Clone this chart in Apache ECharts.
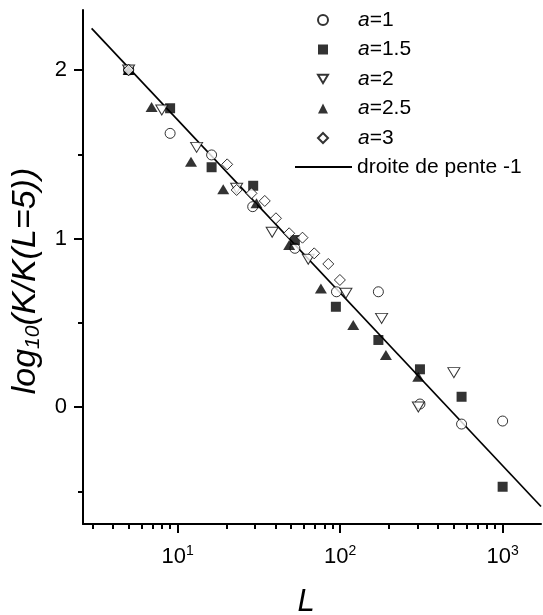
<!DOCTYPE html>
<html>
<head>
<meta charset="utf-8">
<script src="https://cdn.jsdelivr.net/npm/echarts@6/dist/echarts.min.js"></script>
<style>html,body{margin:0;padding:0;background:#fff}#c{width:543px;height:615px}</style>
</head>
<body>
<div id="c"></div>
<script>
// ---- data ----
const L_a1  = [5, 9, 16.2, 29, 52.7, 95, 172, 310, 559, 1000];
const v_a1  = [2, 1.624, 1.496, 1.189, 0.942, 0.684, 0.684, 0.018, -0.101, -0.083];
const L_a15 = [5, 9, 16.2, 29.2, 52.7, 94.2, 172, 310, 559, 1000];
const v_a15 = [2, 1.773, 1.423, 1.313, 0.991, 0.595, 0.398, 0.224, 0.061, -0.473];
const L_a2  = [5, 8, 13.1, 23.1, 38.2, 63.7, 108.6, 180, 303, 501];
const v_a2  = [2, 1.763, 1.541, 1.298, 1.037, 0.877, 0.675, 0.526, 0.0, 0.204];
const L_a25 = [5, 6.92, 12.1, 19.1, 30.6, 48.6, 76.2, 120.5, 191.4, 302.6];
const v_a25 = [2, 1.78, 1.456, 1.292, 1.209, 0.961, 0.704, 0.487, 0.309, 0.18];
const L_a3  = [5, 20.2, 23.1, 28.5, 34.4, 40.3, 48.6, 58.7, 69.3, 84.6, 99.7];
const v_a3  = [2, 1.44, 1.288, 1.268, 1.223, 1.12, 1.031, 1.005, 0.912, 0.849, 0.754];
const lineL = [2.96, 1722];
const lineV = [2.247, -0.59];
const seriesNames = ['a=1', 'a=1.5', 'a=2', 'a=2.5', 'a=3'];
const lineName = 'droite de pente -1';
const xTicksMajor = [10, 100, 1000];
const xTicksMinor = [3,4,5,6,7,8,9,20,30,40,50,60,70,80,90,200,300,400,500,600,700,800,900];
const yTicksMajor = [0, 1, 2];
const yTicksMinor = [-0.5, 0.5, 1.5];
const xRange = [2.62, 1722];
const yRange = [-0.694, 2.356];

const FONT = '"Liberation Sans", Arial, sans-serif';
const pairs = (xs, ys) => xs.map((x, i) => [x, ys[i]]);

const chart = echarts.init(document.getElementById('c'), null, {renderer: 'canvas'});

const axisLineStyle = {color: '#000', width: 2};
const commonX = {type: 'log', logBase: 10, min: xRange[0], max: xRange[1], position: 'bottom', splitLine: {show: false}, minorTick: {show: false}};
const commonY = {type: 'value', min: yRange[0], max: yRange[1], position: 'left', splitLine: {show: false}, minorTick: {show: false}};

const hollow = {color: '#fff', borderColor: '#000', borderWidth: 1};
const filled = {color: '#000', borderColor: '#000', borderWidth: 0};

const option = {
  backgroundColor: '#fff',
  animation: false,
  grid: {left: 83, right: 2, top: 10, bottom: 91, containLabel: false, outerBoundsMode: 'none'},
  xAxis: [
    Object.assign({}, commonX, {
      axisLine: {show: true, onZero: false, lineStyle: axisLineStyle},
      axisTick: {show: true, customValues: xTicksMajor, length: 9, lineStyle: {color: '#000', width: 2}},
      axisLabel: {
        show: true, customValues: xTicksMajor, margin: 20, color: '#000',
        formatter: v => '{b|10}{s|' + Math.round(Math.log10(v)) + '}',
        rich: {
          b: {fontSize: 22, fontFamily: FONT, color: '#000'},
          s: {fontSize: 14, fontFamily: FONT, color: '#000', padding: [0, 0, 12, 0]}
        }
      },
      name: 'L', nameLocation: 'middle', nameGap: 63,
      nameTextStyle: {fontSize: 31, fontStyle: 'italic', fontFamily: FONT, color: '#000', padding: [0, 12, 0, 0]}
    }),
    Object.assign({}, commonX, {
      axisLine: {show: false, onZero: false},
      axisTick: {show: true, customValues: xTicksMinor, length: 5, lineStyle: {color: '#000', width: 2}},
      axisLabel: {show: false}
    })
  ],
  yAxis: [
    Object.assign({}, commonY, {
      axisLine: {show: true, onZero: false, lineStyle: axisLineStyle},
      axisTick: {show: true, customValues: yTicksMajor, length: 9, lineStyle: {color: '#000', width: 2}},
      axisLabel: {show: true, customValues: yTicksMajor, margin: 16, color: '#000', fontSize: 22, fontFamily: FONT},
      name: '{i|log}{s|10}{i|(K/K(L=5))}', nameLocation: 'middle', nameGap: 11,
      nameTextStyle: {
        color: '#000',
        padding: [0, 28, 0, 0],
        rich: {
          i: {fontSize: 34, fontStyle: 'italic', fontFamily: FONT, color: '#000'},
          s: {fontSize: 21, fontStyle: 'italic', fontFamily: FONT, color: '#000', padding: [16, 0, 0, 0]}
        }
      }
    }),
    Object.assign({}, commonY, {
      axisLine: {show: false, onZero: false},
      axisTick: {show: true, customValues: yTicksMinor, length: 5, lineStyle: {color: '#000', width: 2}},
      axisLabel: {show: false}
    })
  ],
  legend: [
    {
      data: [
        {name: seriesNames[0]},
        {name: seriesNames[1]},
        {name: seriesNames[2], icon: 'path://M0,0L12,0L6,10Z'},
        {name: seriesNames[3]},
        {name: seriesNames[4]}
      ],
      orient: 'vertical', left: 312, top: 4.5, padding: 5,
      itemWidth: 10, itemHeight: 10, itemGap: 8.5, selectedMode: false,
      formatter: name => '{sp| }{i|a}{n|' + name.slice(1) + '}',
      textStyle: {
        color: '#000',
        rich: {
          sp: {width: 25, fontSize: 21, lineHeight: 22},
          i: {fontSize: 21, fontStyle: 'italic', fontFamily: FONT, color: '#000', lineHeight: 22},
          n: {fontSize: 21, fontFamily: FONT, color: '#000', lineHeight: 22}
        }
      }
    },
    {
      data: [lineName], orient: 'vertical', left: 289, top: 151, padding: 5,
      itemWidth: 57, itemHeight: 10, selectedMode: false,
      itemStyle: {opacity: 0},
      textStyle: {color: '#000', fontSize: 21, fontFamily: FONT, lineHeight: 22}
    }
  ],
  series: [
    {name: lineName, type: 'line', data: pairs(lineL, lineV), showSymbol: false, symbol: 'none',
     lineStyle: {color: '#000', width: 1.7}, itemStyle: {color: '#000'}, z: 1, silent: true},
    {name: seriesNames[0], type: 'scatter', data: pairs(L_a1, v_a1), symbol: 'circle', symbolSize: 10, itemStyle: hollow, z: 2},
    {name: seriesNames[1], type: 'scatter', data: pairs(L_a15, v_a15), symbol: 'rect', symbolSize: 10, itemStyle: filled, z: 2},
    {name: seriesNames[2], type: 'scatter', data: pairs(L_a2, v_a2), symbol: 'triangle', symbolRotate: 180, symbolSize: [12, 10], itemStyle: hollow, z: 2},
    {name: seriesNames[3], type: 'scatter', data: pairs(L_a25, v_a25), symbol: 'triangle', symbolSize: [12, 10], itemStyle: filled, z: 2},
    {name: seriesNames[4], type: 'scatter', data: pairs(L_a3, v_a3), symbol: 'diamond', symbolSize: 11, itemStyle: hollow, z: 2}
  ]
};
chart.setOption(option);
</script>
</body>
</html>
